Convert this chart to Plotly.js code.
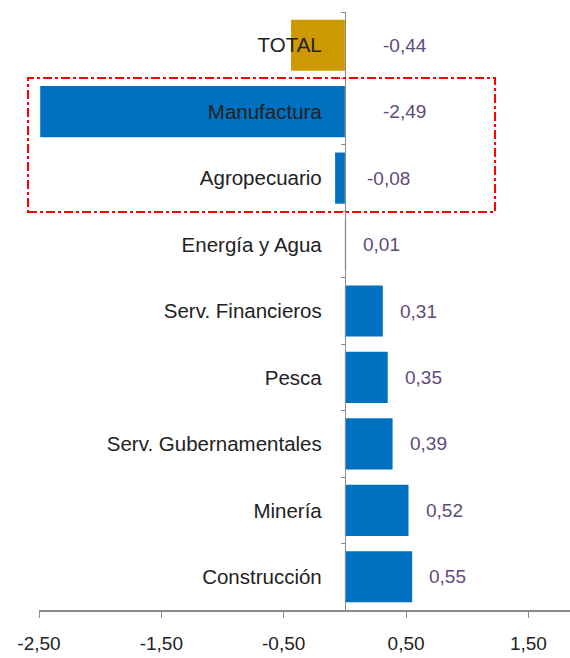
<!DOCTYPE html>
<html>
<head>
<meta charset="utf-8">
<script src="https://cdn.plot.ly/plotly-3.0.1.min.js"></script>
<style>html,body{margin:0;padding:0;background:#fff;}#chart{width:570px;height:658px;}</style>
</head>
<body>
<div id="chart"></div>
<script>
const categories = ["TOTAL", "Manufactura", "Agropecuario", "Energía y Agua", "Serv. Financieros", "Pesca", "Serv. Gubernamentales", "Minería", "Construcción"];
const values = [-0.44, -2.49, -0.08, 0.01, 0.31, 0.35, 0.39, 0.52, 0.55];
const tickValues = [-2.5, -1.5, -0.5, 0.5, 1.5];
const tickLabels = ["-2,50", "-1,50", "-0,50", "0,50", "1,50"];

const xMin = -2.5, xMax = 1.84;
const colors = categories.map(c => c === "TOTAL" ? "#CC9900" : "#0070C0");
const fmt = v => v.toFixed(2).replace(".", ",");

const trace = {
  type: "bar",
  orientation: "h",
  x: values,
  y: categories,
  marker: {color: colors, line: {width: 0}},
  hoverinfo: "none"
};

const annotations = values.map((v, i) => ({
  x: v > 0 ? v : 0,
  y: categories[i],
  xref: "x", yref: "y",
  text: fmt(v),
  showarrow: false,
  xanchor: "left",
  xshift: v > 0 ? 15 : (Math.abs(v) < 0.2 ? 20 : 36),
  font: {family: "Liberation Sans, Arial, sans-serif", size: 19, color: "#604A7B"}
}));

const layout = {
  width: 570, height: 658,
  margin: {l: 39, r: 0, t: 12, b: 48},
  paper_bgcolor: "#fff", plot_bgcolor: "#fff",
  showlegend: false,
  bargap: 0.23,
  font: {family: "Liberation Sans, Arial, sans-serif", size: 19, color: "#222"},
  xaxis: {
    range: [xMin, xMax],
    tickvals: tickValues, ticktext: tickLabels,
    showgrid: false, zeroline: false,
    showline: true, linecolor: "#8c8c8c", linewidth: 1.5,
    ticks: "outside", ticklen: 6, tickcolor: "#8c8c8c",
    ticklabelstandoff: 10,
    tickfont: {size: 19, color: "#222"}
  },
  yaxis: {
    type: "category",
    autorange: "reversed",
    anchor: "free",
    position: (0 - xMin) / (xMax - xMin),
    showgrid: false, zeroline: false,
    showline: true, linecolor: "#8c8c8c", linewidth: 1.5,
    ticks: "outside", ticklen: 4, tickcolor: "#8c8c8c",
    tickson: "boundaries",
    ticklabelstandoff: 19,
    tickfont: {size: 20.5, color: "#222"}
  },
  annotations: annotations,
  shapes: [{
    type: "rect", xref: "paper", yref: "paper",
    x0: -0.0207, x1: 0.8588, y0: 0.6656, y1: 0.8896,
    line: {color: "#FF0000", width: 2, dash: "dashdot"},
    fillcolor: "rgba(0,0,0,0)", layer: "above"
  }]
};

Plotly.newPlot("chart", [trace], layout, {displayModeBar: false, staticPlot: true});
</script>
</body>
</html>
